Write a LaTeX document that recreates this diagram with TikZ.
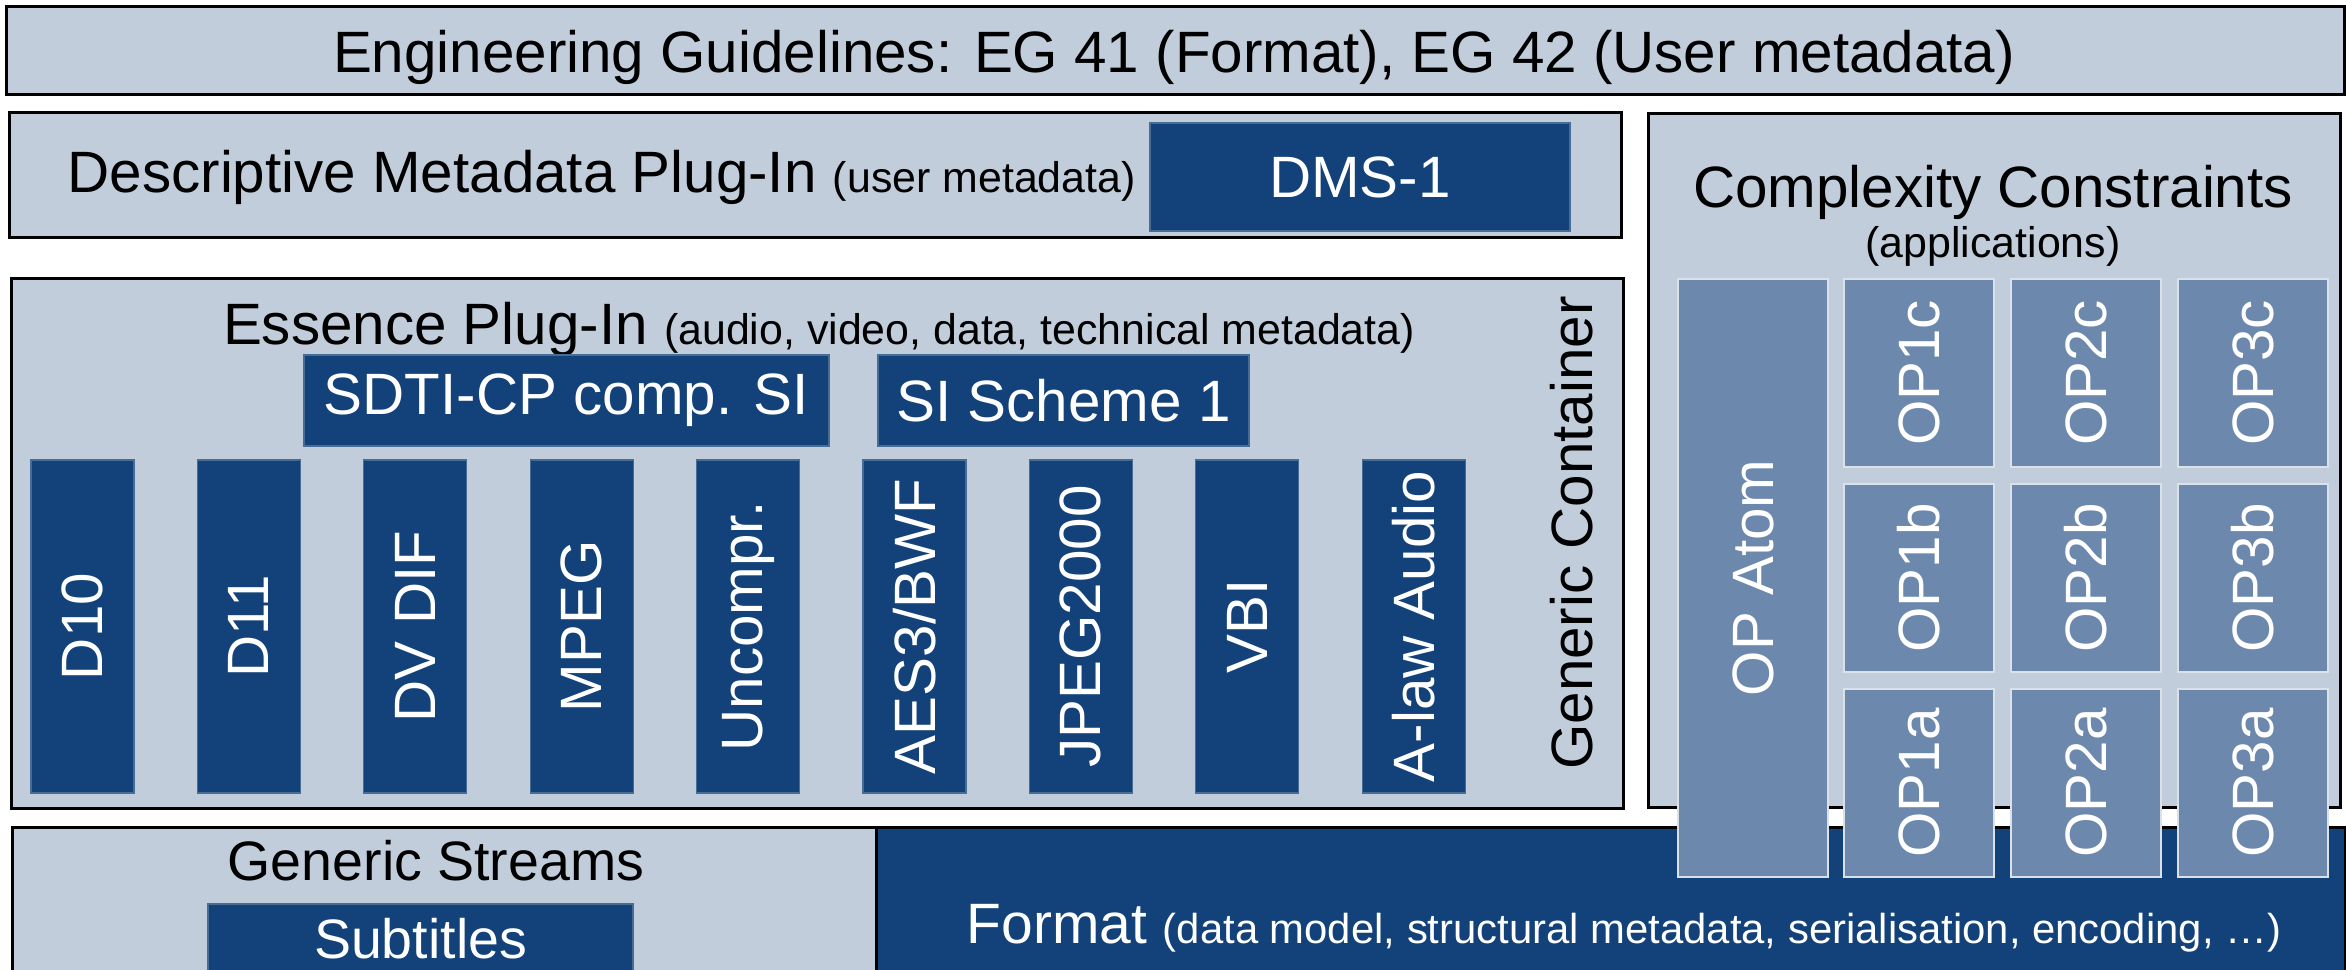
\documentclass[tikz,border=0pt]{standalone}
\usepackage{fontspec}
\setmainfont{Liberation Sans}
\usetikzlibrary{positioning}

\definecolor{paleblue}{RGB}{193,205,219}
\definecolor{deepblue}{RGB}{18,66,121}
\definecolor{opblue}{RGB}{108,137,173}
\newcommand{\bigtxt}{\fontsize{16.6}{19}\selectfont}
\newcommand{\smltxt}{\fontsize{12.2}{14}\selectfont}
\newcommand{\lowtxt}{\fontsize{15.8}{18}\selectfont}

\begin{document}
\begin{tikzpicture}[
    layer/.style={rectangle, draw=black, line width=0.8pt, fill=paleblue, inner sep=0, anchor=north west},
    block/.style={rectangle, draw=deepblue!70!paleblue, line width=0.3pt, fill=deepblue, text=white, inner sep=0, outer sep=0, font=\bigtxt},
    bar/.style={block, minimum width=1.03cm, minimum height=3.33cm},
    opbox/.style={rectangle, draw=paleblue!60!white, line width=0.6pt, fill=opblue, text=white, inner sep=0, outer sep=0, font=\bigtxt, minimum width=1.50cm, minimum height=1.88cm},
    caption/.style={inner sep=0, font=\bigtxt, anchor=base}
]
\useasboundingbox (0,0) rectangle (23.46,-9.70);
\clip (0,0) rectangle (23.46,-9.70);

% guidelines
\node[layer, minimum width=23.38cm, minimum height=0.88cm] (eg) at (0.05,-0.05) {};
\node[caption] (egtext) at (11.74,-0.72) {Engineering Guidelines: EG 41 (Format), EG 42 (User metadata)};

% descriptive metadata
\node[layer, minimum width=16.12cm, minimum height=1.25cm] (dm) at (0.08,-1.11) {};
\node[caption, anchor=base west] (dmtext) at (0.67,-1.92) {Descriptive Metadata Plug-In {\smltxt(user metadata)}};
\node[block, minimum width=4.20cm, minimum height=1.08cm] (dms) at (13.60,-1.77) {DMS-1};

% essence plug-ins
\node[layer, minimum width=16.12cm, minimum height=5.30cm] (ess) at (0.10,-2.77) {};
\node[caption] (esstext) at (8.19,-3.44) {Essence Plug-In {\smltxt(audio, video, data, technical metadata)}};
\node[block, minimum width=5.25cm, minimum height=0.91cm] (sdti) at (5.665,-4.005) {SDTI-CP comp. SI};
\node[block, minimum width=3.71cm, minimum height=0.91cm, right=0.49cm of sdti] (si) {SI Scheme 1};

\node[bar] (d10) at (0.825,-6.265) {\rotatebox{90}{D10}};
\node[bar, right=0.634cm of d10] (d11) {\rotatebox{90}{D11}};
\node[bar, right=0.634cm of d11] (dvdif) {\rotatebox{90}{DV DIF}};
\node[bar, right=0.634cm of dvdif] (mpeg) {\rotatebox{90}{MPEG}};
\node[bar, right=0.634cm of mpeg] (uncomp) {\rotatebox{90}{Uncompr.}};
\node[bar, right=0.634cm of uncomp] (aes) {\rotatebox{90}{AES3/BWF}};
\node[bar, right=0.634cm of aes] (jpeg) {\rotatebox{90}{JPEG2000}};
\node[bar, right=0.634cm of jpeg] (vbi) {\rotatebox{90}{VBI}};
\node[bar, right=0.634cm of vbi] (alaw) {\rotatebox{90}{A-law Audio}};

\node[caption, anchor=center, rotate=90] (gc) at (15.72,-5.33) {Generic Container};

% operational patterns
\node[layer, minimum width=6.92cm, minimum height=6.94cm] (cc) at (16.47,-1.12) {};
\node[caption] (cctext) at (19.93,-2.07) {Complexity Constraints};
\node[caption, font=\smltxt] (apptext) at (19.93,-2.57) {(applications)};

% streams and format
\node[layer, minimum width=8.64cm, minimum height=1.8cm] (gs) at (0.11,-8.26) {};
\node[layer, fill=deepblue, minimum width=14.69cm, minimum height=1.8cm] (fmt) at (8.75,-8.26) {};
\node[caption, font=\lowtxt] (gstext) at (4.36,-8.80) {Generic Streams};
\node[block, minimum width=4.25cm, minimum height=1.2cm, anchor=north] (sub) at (4.205,-9.04) {};
\node[caption, font=\lowtxt, text=white] (subtext) at (4.205,-9.58) {Subtitles};
\node[caption, font=\fontsize{16.2}{19}\selectfont, text=white] (fmttext) at (16.24,-9.43) {Format {\fontsize{11.9}{14}\selectfont(data model, structural metadata, serialisation, encoding, …)}};

\node[opbox, minimum height=5.98cm] (atom) at (17.53,-5.78) {\rotatebox{90}{OP Atom}};
\node[opbox] (op1c) at (19.19,-3.73) {\rotatebox{90}{OP1c}};
\node[opbox, right=0.17cm of op1c] (op2c) {\rotatebox{90}{OP2c}};
\node[opbox, right=0.17cm of op2c] (op3c) {\rotatebox{90}{OP3c}};
\node[opbox, below=0.17cm of op1c] (op1b) {\rotatebox{90}{OP1b}};
\node[opbox, below=0.17cm of op2c] (op2b) {\rotatebox{90}{OP2b}};
\node[opbox, below=0.17cm of op3c] (op3b) {\rotatebox{90}{OP3b}};
\node[opbox, below=0.17cm of op1b] (op1a) {\rotatebox{90}{OP1a}};
\node[opbox, below=0.17cm of op2b] (op2a) {\rotatebox{90}{OP2a}};
\node[opbox, below=0.17cm of op3b] (op3a) {\rotatebox{90}{OP3a}};
\end{tikzpicture}
\end{document}
